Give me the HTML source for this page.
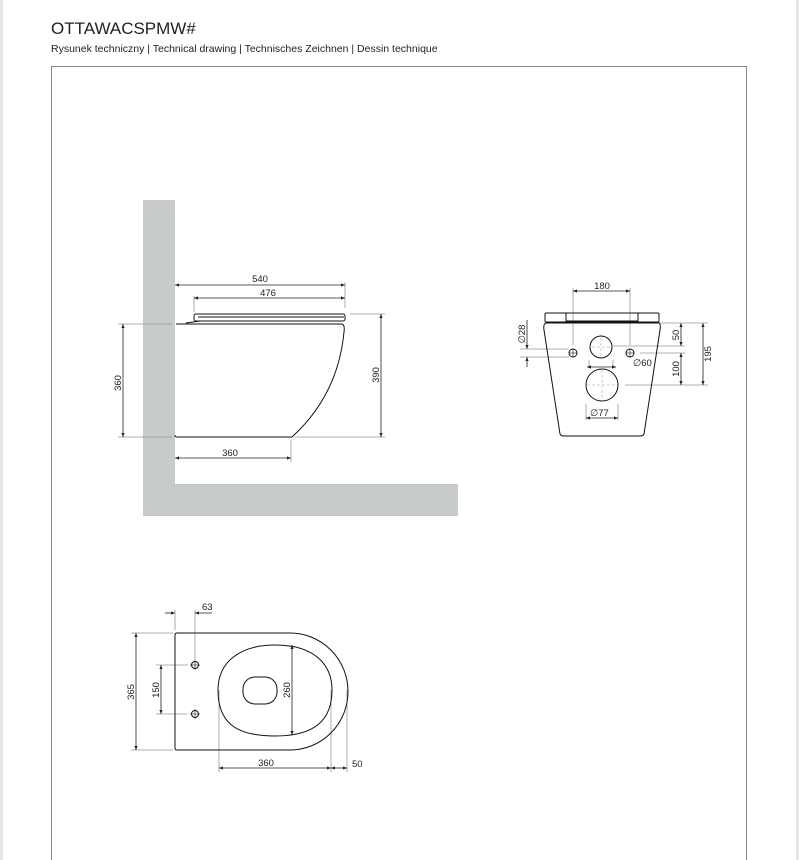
<!DOCTYPE html>
<html><head><meta charset="utf-8"><style>
html,body{margin:0;padding:0;background:#fff;}
body{width:799px;height:860px;position:relative;overflow:hidden;font-family:"Liberation Sans",sans-serif;}
.t{position:absolute;left:51px;top:19px;font-size:17px;color:#222;}
.s{position:absolute;left:51px;top:43px;font-size:10.5px;color:#222;}
svg{position:absolute;left:0;top:0;}
</style></head><body>
<div class="t">OTTAWACSPMW#</div>
<div class="s">Rysunek techniczny | Technical drawing | Technisches Zeichnen | Dessin technique</div>
<svg width="799" height="860" viewBox="0 0 799 860" font-family="Liberation Sans, sans-serif" font-size="9.5" fill="none">
<defs>
<marker id="a" viewBox="0 0 10 10" refX="10" refY="5" markerWidth="5" markerHeight="5" orient="auto-start-reverse"><path d="M0,1 L10,5 L0,9z" fill="#222"/></marker>
</defs>
<rect x="0" y="0" width="3" height="860" fill="#e6e6e6"/>
<rect x="796" y="0" width="3" height="860" fill="#e6e6e6"/>
<path d="M51.5,866 V66.5 H746.5 V866" stroke="#888" stroke-width="1"/>
<!-- side view -->
<rect x="143" y="200" width="32" height="316" fill="#c8cbcc"/>
<rect x="143" y="484" width="315" height="32" fill="#c8cbcc"/>
<g stroke="#999" stroke-width="0.8">
<line x1="118" y1="324" x2="172" y2="324"/><line x1="118" y1="437" x2="172" y2="437"/>
<line x1="295" y1="437" x2="385" y2="437"/><line x1="350" y1="314" x2="385" y2="314"/>
<line x1="345" y1="282" x2="345" y2="308"/><line x1="194" y1="296" x2="194" y2="312"/>
<line x1="291" y1="440" x2="291" y2="462"/>
</g>
<g stroke="#222" stroke-width="0.8">
<line x1="175" y1="285" x2="345" y2="285" marker-start="url(#a)" marker-end="url(#a)"/>
<line x1="194" y1="298" x2="345" y2="298" marker-start="url(#a)" marker-end="url(#a)"/>
<line x1="123" y1="324" x2="123" y2="437" marker-start="url(#a)" marker-end="url(#a)"/>
<line x1="381" y1="314" x2="381" y2="437" marker-start="url(#a)" marker-end="url(#a)"/>
<line x1="175" y1="458" x2="291" y2="458" marker-start="url(#a)" marker-end="url(#a)"/>
</g>
<g stroke="#111" stroke-width="1">
<path d="M176,324 H342 Q345,325 344,332 Q338,395 292,437 H177 Q175,437 175,435"/>
<rect x="194" y="314" width="151" height="7" rx="2"/>
<line x1="198" y1="317" x2="344" y2="317"/>
<path d="M186,323 L200,321 M222,321 H330"/>
</g>
<g fill="#222">
<text x="260" y="282" text-anchor="middle">540</text>
<text x="268" y="296" text-anchor="middle">476</text>
<text x="230" y="456" text-anchor="middle">360</text>
<text transform="translate(121,383) rotate(-90)" text-anchor="middle">360</text>
<text transform="translate(379,375) rotate(-90)" text-anchor="middle">390</text>
</g>
<!-- front view -->
<g stroke="#999" stroke-width="0.8">
<line x1="573" y1="288" x2="573" y2="345"/><line x1="630" y1="288" x2="630" y2="345"/>
<line x1="520" y1="349" x2="569" y2="349"/><line x1="520" y1="357" x2="569" y2="357"/>
<line x1="660" y1="323" x2="708" y2="323"/><line x1="613" y1="346" x2="685" y2="346"/>
<line x1="640" y1="353" x2="685" y2="353"/><line x1="625" y1="385" x2="708" y2="385"/>
<line x1="589" y1="360" x2="589" y2="368"/><line x1="613" y1="360" x2="613" y2="368"/>
<line x1="586" y1="404" x2="586" y2="420"/><line x1="618" y1="404" x2="618" y2="420"/>
</g>
<g stroke="#222" stroke-width="0.8">
<line x1="573" y1="291" x2="630" y2="291" marker-start="url(#a)" marker-end="url(#a)"/>
<line x1="527" y1="320" x2="527" y2="349" marker-end="url(#a)"/>
<line x1="527" y1="367" x2="527" y2="357" marker-end="url(#a)"/>
<line x1="681" y1="323" x2="681" y2="346" marker-start="url(#a)" marker-end="url(#a)"/>
<line x1="681" y1="353" x2="681" y2="385" marker-start="url(#a)" marker-end="url(#a)"/>
<line x1="703" y1="323" x2="703" y2="385" marker-start="url(#a)" marker-end="url(#a)"/>
<line x1="587" y1="367" x2="616" y2="367" marker-start="url(#a)" marker-end="url(#a)"/>
<line x1="586" y1="418" x2="618" y2="418" marker-start="url(#a)" marker-end="url(#a)"/>
</g>
<g stroke="#111" stroke-width="1">
<path d="M546,323 H659 Q661,324 660,330 L644,434 Q643,436 640,436 H564 Q561,436 560,434 L544,330 Q543,324 546,323Z"/>
<rect x="545" y="313" width="114" height="9" rx="1"/>
<rect x="566" y="313" width="72" height="8"/>
<circle cx="573" cy="353" r="4"/><circle cx="630" cy="353" r="4"/>
<circle cx="601" cy="347" r="11"/><circle cx="602" cy="385" r="16"/>
</g>
<g stroke="#999" stroke-width="0.5" stroke-dasharray="3,2">
<line x1="602" y1="370" x2="602" y2="400"/><line x1="587" y1="385" x2="617" y2="385"/>
<line x1="601" y1="338" x2="601" y2="356"/><line x1="592" y1="347" x2="610" y2="347"/>
</g>
<g stroke="#222" stroke-width="0.6"><line x1="569" y1="353" x2="577" y2="353"/><line x1="573" y1="349" x2="573" y2="357"/><line x1="626" y1="353" x2="634" y2="353"/><line x1="630" y1="349" x2="630" y2="357"/></g>
<g fill="#222">
<text x="602" y="289" text-anchor="middle">180</text>
<text x="633" y="366">∅60</text>
<text x="590" y="416">∅77</text>
<text transform="translate(525,334) rotate(-90)" text-anchor="middle">∅28</text>
<text transform="translate(679,335) rotate(-90)" text-anchor="middle">50</text>
<text transform="translate(679,369) rotate(-90)" text-anchor="middle">100</text>
<text transform="translate(711,354) rotate(-90)" text-anchor="middle">195</text>
</g>
<!-- top view -->
<g stroke="#999" stroke-width="0.8">
<line x1="131" y1="633" x2="173" y2="633"/><line x1="131" y1="750" x2="173" y2="750"/>
<line x1="156" y1="665" x2="188" y2="665"/><line x1="156" y1="714" x2="188" y2="714"/>
<line x1="175" y1="610" x2="175" y2="630"/><line x1="195" y1="610" x2="195" y2="660"/>
<line x1="219" y1="690" x2="219" y2="772"/><line x1="331" y1="690" x2="331" y2="772"/><line x1="347" y1="690" x2="347" y2="772"/>
</g>
<g stroke="#222" stroke-width="0.8">
<line x1="136" y1="633" x2="136" y2="750" marker-start="url(#a)" marker-end="url(#a)"/>
<line x1="161" y1="665" x2="161" y2="714" marker-start="url(#a)" marker-end="url(#a)"/>
<line x1="165" y1="613" x2="175" y2="613" marker-end="url(#a)"/>
<line x1="212" y1="613" x2="195" y2="613" marker-end="url(#a)"/>
<line x1="292" y1="645" x2="292" y2="735" marker-start="url(#a)" marker-end="url(#a)"/>
<line x1="219" y1="768" x2="331" y2="768" marker-start="url(#a)" marker-end="url(#a)"/>
<line x1="331" y1="768" x2="347" y2="768" marker-start="url(#a)" marker-end="url(#a)"/>
</g>
<g stroke="#111" stroke-width="1">
<path d="M177,633 H290 A58,58.5 0 0 1 290,750 H177 Q175,750 175,748 V635 Q175,633 177,633Z"/>
<path d="M275,645 C315,645 332,665 332,690 C332,720 315,736 275,736 C235,736 218,722 218,690 C218,662 240,645 275,645Z"/>
<rect x="243" y="677" width="34" height="27" rx="12"/>
<circle cx="195" cy="665" r="3.5"/><circle cx="195" cy="714" r="3.5"/>
</g>
<g stroke="#222" stroke-width="0.6"><line x1="190" y1="665" x2="200" y2="665"/><line x1="195" y1="660" x2="195" y2="670"/><line x1="190" y1="714" x2="200" y2="714"/><line x1="195" y1="709" x2="195" y2="719"/></g>
<g fill="#222">
<text x="202" y="610">63</text>
<text x="266" y="766" text-anchor="middle">360</text>
<text x="352" y="767">50</text>
<text transform="translate(134,692) rotate(-90)" text-anchor="middle">365</text>
<text transform="translate(159,690) rotate(-90)" text-anchor="middle">150</text>
<text transform="translate(290,690) rotate(-90)" text-anchor="middle">260</text>
</g>
</svg>
</body></html>
